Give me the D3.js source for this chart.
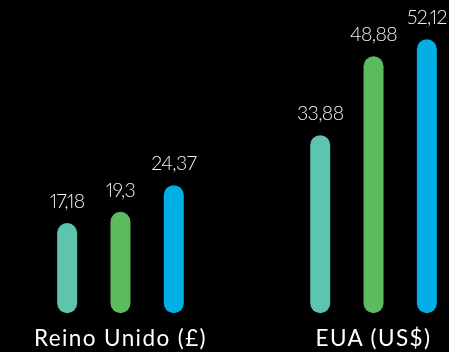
<!DOCTYPE html>
<html>
<head>
<meta charset="utf-8">
<script src="https://cdn.jsdelivr.net/npm/d3@7"></script>
<style>
  html, body { margin: 0; padding: 0; background: #000; }
  svg { display: block; }
  text { will-change: transform; }
</style>
</head>
<body>
<svg id="chart" width="449" height="352"></svg>
<script>
// Markets and the three yearly series shown for each
const groups = ["Reino Unido (£)", "EUA (US$)"];
const series = ["s1", "s2", "s3"];
const valuesUK = [17.18, 19.3, 24.37];
const valuesUS = [33.88, 48.88, 52.12];
const valueLabelsUK = ["17,18", "19,3", "24,37"];
const valueLabelsUS = ["33,88", "48,88", "52,12"];
const colors = ["#5dc4ae", "#5cba5f", "#02aee6"];

const rows = [
  { group: groups[0], values: valuesUK, labels: valueLabelsUK },
  { group: groups[1], values: valuesUS, labels: valueLabelsUS }
];

const W = 449, H = 352;
const baseline = 313.3;
const barW = 20;

const svg = d3.select("#chart");
svg.append("rect").attr("width", W).attr("height", H).attr("fill", "#000");

const x0 = d3.scaleBand()
  .domain(groups)
  .range([40.5, 453.5])
  .paddingInner(0.368)
  .paddingOuter(0);

const x1 = d3.scaleBand()
  .domain(series)
  .range([0, x0.bandwidth()])
  .padding(0);

const y = d3.scaleLinear()
  .domain([0, 60])
  .range([baseline, baseline - 60 * 5.257]);

const g = svg.selectAll("g.group")
  .data(rows)
  .join("g")
  .attr("class", "group")
  .attr("transform", d => `translate(${x0(d.group)},0)`);

const bars = g.selectAll("g.bar")
  .data(d => d.values.map((v, i) => ({ key: series[i], value: v, label: d.labels[i], i })))
  .join("g")
  .attr("class", "bar");

bars.append("rect")
  .attr("x", d => x1(d.key) + (x1.bandwidth() - barW) / 2)
  .attr("y", d => y(d.value))
  .attr("width", barW)
  .attr("height", d => y(0) - y(d.value))
  .attr("rx", barW / 2)
  .attr("ry", barW / 2)
  .attr("fill", d => colors[d.i]);

bars.append("text")
  .attr("x", d => x1(d.key) + x1.bandwidth() / 2)
  .attr("y", d => y(d.value) - 15)
  .attr("text-anchor", "middle")
  .attr("font-family", "Lato, sans-serif")
  .attr("font-weight", 300)
  .attr("font-size", 19.5)
  .attr("letter-spacing", -0.6)
  .style("font-variant-numeric", "proportional-nums")
  .attr("fill", "#f2f2f2")
  .text(d => d.label);

// Category names under each cluster
g.append("text")
  .attr("x", x0.bandwidth() / 2)
  .attr("y", 346)
  .attr("text-anchor", "middle")
  .attr("font-family", "Lato, sans-serif")
  .attr("font-weight", 400)
  .attr("font-size", 22.5)
  .attr("letter-spacing", 1.4)
  .attr("fill", "#ffffff")
  .text(d => d.group);
</script>
</body>
</html>
